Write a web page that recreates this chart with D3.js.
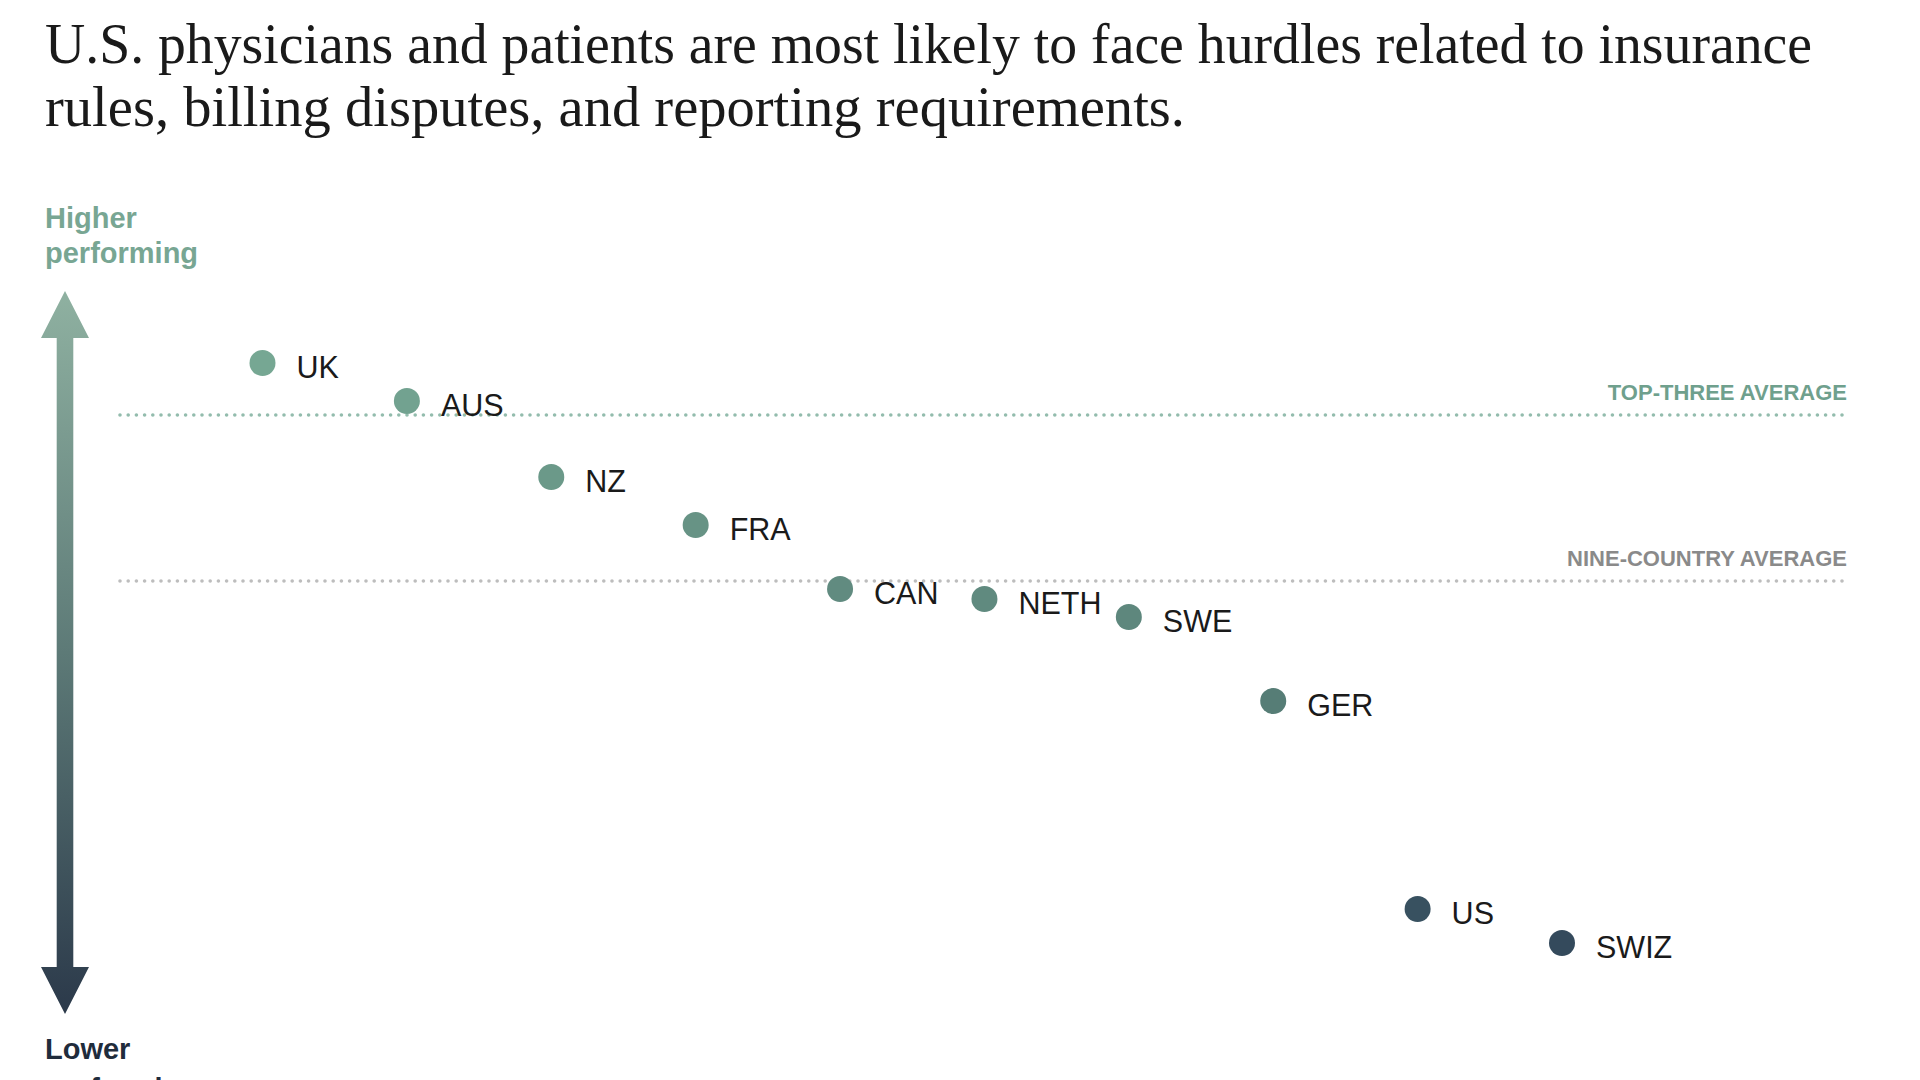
<!DOCTYPE html>
<html>
<head>
<meta charset="utf-8">
<script src="https://cdn.jsdelivr.net/npm/d3@7"></script>
<style>
  html, body { margin: 0; padding: 0; background: #ffffff; }
  svg { display: block; }
</style>
</head>
<body>
<svg id="chart" width="1920" height="1080"></svg>
<script>
// ---- Data ----
const titleLines = [
  "U.S. physicians and patients are most likely to face hurdles related to insurance",
  "rules, billing disputes, and reporting requirements."
];
const countries = ["UK", "AUS", "NZ", "FRA", "CAN", "NETH", "SWE", "GER", "US", "SWIZ"];
const scores    = [1.09, 0.90, 0.52, 0.28, -0.04, -0.09, -0.18, -0.60, -1.64, -1.81];
const averageLabels = ["TOP-THREE AVERAGE", "NINE-COUNTRY AVERAGE"];
const averageValues = [0.83, 0.0];
const topAxisLabel = ["Higher", "performing"];
const bottomAxisLabel = ["Lower", "performing"];

// ---- Setup ----
const svg = d3.select("#chart");

const x = d3.scalePoint().domain(countries).range([262.5, 1562]);
const y = d3.scaleLinear().domain([0, 1]).range([581, 381]);
const color = d3.scaleLinear()
  .domain([1.1, -0.6, -1.9])
  .range(["#76a793", "#567d76", "#31465a"])
  .interpolate(d3.interpolateRgb);

// ---- Title ----
const titleWidths = [1767, 1140];
const titleG = svg.append("g");
titleLines.forEach((t, i) => {
  titleG.append("text")
    .attr("x", 45)
    .attr("y", 63 + i * 63)
    .attr("font-family", "'Liberation Serif', 'Times New Roman', serif")
    .attr("font-size", 57)
    .attr("fill", "#1a1a1a")
    .attr("textLength", titleWidths[i])
    .attr("lengthAdjust", "spacingAndGlyphs")
    .text(t);
});

// ---- Axis labels ----
const tl = svg.append("text")
  .attr("font-family", "'Liberation Sans', Arial, sans-serif")
  .attr("font-weight", "bold")
  .attr("font-size", 29)
  .attr("fill", "#78a693");
topAxisLabel.forEach((t, i) => {
  tl.append("tspan").attr("x", 45).attr("y", 228 + i * 35).text(t);
});
const bl = svg.append("text")
  .attr("font-family", "'Liberation Sans', Arial, sans-serif")
  .attr("font-weight", "bold")
  .attr("font-size", 29)
  .attr("fill", "#1f2c3c");
bottomAxisLabel.forEach((t, i) => {
  bl.append("tspan").attr("x", 45).attr("y", 1059 + i * 40).text(t);
});

// ---- Gradient arrow ----
const defs = svg.append("defs");
const grad = defs.append("linearGradient")
  .attr("id", "arrowGrad")
  .attr("gradientUnits", "userSpaceOnUse")
  .attr("x1", 0).attr("y1", 291).attr("x2", 0).attr("y2", 1014);
grad.append("stop").attr("offset", "0%").attr("stop-color", "#8fb1a1");
grad.append("stop").attr("offset", "50%").attr("stop-color", "#5d7a77");
grad.append("stop").attr("offset", "100%").attr("stop-color", "#2b394a");

const cx = 65, hw = 24, sw = 8.3, tipT = 291, baseT = 338, baseB = 967, tipB = 1014;
const arrowPts = [
  [cx, tipT], [cx + hw, baseT], [cx + sw, baseT], [cx + sw, baseB], [cx + hw, baseB],
  [cx, tipB], [cx - hw, baseB], [cx - sw, baseB], [cx - sw, baseT], [cx - hw, baseT]
];
svg.append("path")
  .attr("d", d3.line()(arrowPts) + "Z")
  .attr("fill", "url(#arrowGrad)");

// ---- Average lines ----
const lineColors = ["#93bcad", "#bdbdbd"];
const labelColors = ["#6fa08d", "#8a8a8a"];
const avgG = svg.append("g");
averageValues.forEach((v, i) => {
  avgG.append("line")
    .attr("x1", 120).attr("x2", 1847)
    .attr("y1", y(v)).attr("y2", y(v))
    .attr("stroke", lineColors[i])
    .attr("stroke-width", 3.6)
    .attr("stroke-linecap", "round")
    .attr("stroke-dasharray", "0 8.2");
  avgG.append("text")
    .attr("x", 1847)
    .attr("y", y(v) - 15)
    .attr("text-anchor", "end")
    .attr("font-family", "'Liberation Sans', Arial, sans-serif")
    .attr("font-weight", "bold")
    .attr("font-size", 22)
    .attr("fill", labelColors[i])
    .text(averageLabels[i]);
});

// ---- Points ----
const data = countries.map((c, i) => ({ c, v: scores[i] }));
const pts = svg.append("g").selectAll("g").data(data).join("g");
pts.append("circle")
  .attr("cx", d => x(d.c))
  .attr("cy", d => y(d.v))
  .attr("r", 13)
  .attr("fill", d => color(d.v));
pts.append("text")
  .attr("x", d => x(d.c) + 34)
  .attr("y", d => y(d.v) + 14.5)
  .attr("font-family", "'Liberation Sans', Arial, sans-serif")
  .attr("font-size", 30.5)
  .attr("fill", "#1a1a1a")
  .text(d => d.c);
</script>
</body>
</html>
